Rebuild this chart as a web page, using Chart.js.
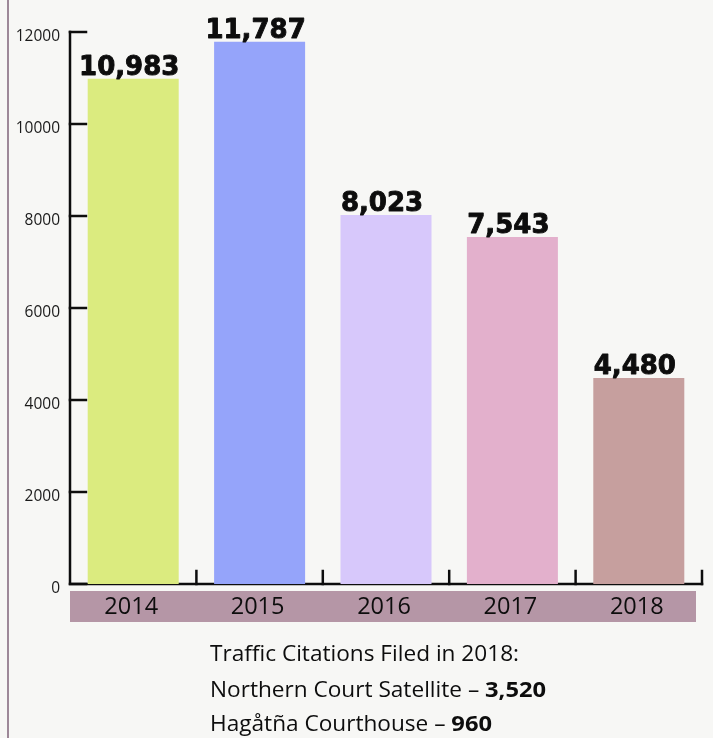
<!DOCTYPE html>
<html>
<head>
<meta charset="utf-8">
<script src="https://cdn.jsdelivr.net/npm/chart.js@4.4.0/dist/chart.umd.min.js"></script>
<style>
  html, body { margin: 0; padding: 0; background: #f7f7f5; }
  #wrap { position: relative; width: 713px; height: 738px; }
  #edge { position: absolute; left: 7px; top: 0; width: 2px; height: 738px; background: #9d8898; }
</style>
</head>
<body>
<div id="wrap">
  <div id="edge"></div>
  <canvas id="bar-chart" width="713" height="738"></canvas>
</div>
<script>
// chart data
const years = ['2014', '2015', '2016', '2017', '2018'];
const citations = [10983, 11787, 8023, 7543, 4480];
const barColors = ['#dbeb7f', '#95a4fa', '#d7c8fb', '#e3b0cc', '#c69f9e'];
const yTicks = [0, 2000, 4000, 6000, 8000, 10000, 12000];
const noteLines = [
    [{ t: 'Traffic Citations Filed in 2018:', b: false }],
    [{ t: 'Northern Court Satellite \u2013 ', b: false }, { t: '3,520', b: true }],
    [{ t: 'Hag\u00e5t\u00f1a Courthouse \u2013 ', b: false }, { t: '960', b: true }]
];

const ink = '#0d0d0d';

// axes with inward ticks, drawn under the bars
const axisPlugin = {
    id: 'axisPlugin',
    beforeDatasetsDraw(chart) {
        const ctx = chart.ctx;
        const x = chart.scales.x;
        const y = chart.scales.y;
        const area = chart.chartArea;
        const top = y.getPixelForValue(yTicks[yTicks.length - 1]);
        const bottom = y.getPixelForValue(0);

        ctx.save();
        ctx.strokeStyle = ink;
        ctx.lineWidth = 2.5;
        ctx.lineCap = 'square';

        // y axis + x axis
        ctx.beginPath();
        ctx.moveTo(area.left, top);
        ctx.lineTo(area.left, bottom);
        ctx.lineTo(area.right, bottom);
        ctx.stroke();

        // y ticks pointing right
        yTicks.forEach((v) => {
            const py = y.getPixelForValue(v);
            ctx.beginPath();
            ctx.moveTo(area.left, py);
            ctx.lineTo(area.left + 16, py);
            ctx.stroke();
        });

        // x ticks between categories, pointing up
        for (let i = 1; i <= years.length; i++) {
            const px = x.getPixelForValue(i - 0.5);
            ctx.beginPath();
            ctx.moveTo(px, bottom);
            ctx.lineTo(px, bottom - 13);
            ctx.stroke();
        }

        // y tick labels
        ctx.fillStyle = '#1a1a1a';
        ctx.font = '15.5px "Open Sans"';
        ctx.textAlign = 'right';
        ctx.textBaseline = 'middle';
        yTicks.forEach((v) => {
            ctx.fillText(String(v), area.left - 10, y.getPixelForValue(v) + 5);
        });
        ctx.restore();
    },
    afterDatasetsDraw(chart) {
        const ctx = chart.ctx;
        const x = chart.scales.x;
        const y = chart.scales.y;
        const area = chart.chartArea;
        const bottom = y.getPixelForValue(0);

        ctx.save();
        // category band
        ctx.fillStyle = '#b596a6';
        ctx.fillRect(area.left, bottom + 7, area.right - 6 - area.left, 31);
        ctx.fillStyle = ink;
        ctx.font = '23.5px "Open Sans"';
        ctx.textAlign = 'center';
        ctx.textBaseline = 'middle';
        years.forEach((yr, i) => {
            ctx.fillText(yr, x.getPixelForValue(i) - 2, bottom + 23);
        });

        // value labels
        ctx.font = 'bold 26px "DejaVu Sans"';
        ctx.textBaseline = 'alphabetic';
        ctx.strokeStyle = ink;
        ctx.lineWidth = 0.9;
        ctx.lineJoin = 'round';
        citations.forEach((v, i) => {
            const s = v.toLocaleString('en-US');
            const px = x.getPixelForValue(i) - 4;
            const py = y.getPixelForValue(v) - 4;
            ctx.fillText(s, px, py);
            ctx.strokeText(s, px, py);
        });

        // note lines under the chart
        ctx.textAlign = 'left';
        const fontOf = (b) => (b ? 'bold 22px' : '21px') + ' "Open Sans"';
        ctx.font = fontOf(false);
        const squeeze = 309 / ctx.measureText(noteLines[0][0].t).width;
        const baselines = [661, 697, 731];
        noteLines.forEach((parts, li) => {
            ctx.save();
            ctx.translate(210, baselines[li]);
            ctx.scale(squeeze, 1);
            let cx = 0;
            parts.forEach((p) => {
                ctx.font = fontOf(p.b);
                ctx.fillText(p.t, cx, 0);
                cx += ctx.measureText(p.t).width;
            });
            ctx.restore();
        });
        ctx.restore();
    }
};

const canvas = document.getElementById('bar-chart');
const barChart = new Chart(canvas, {
    type: 'bar',
    data: {
        labels: years,
        datasets: [{
            data: citations,
            backgroundColor: barColors,
            borderWidth: 0,
            categoryPercentage: 0.72,
            barPercentage: 1
        }]
    },
    options: {
        responsive: false,
        animation: false,
        layout: { padding: { left: 70, right: 11, top: 32, bottom: 154 } },
        plugins: { legend: { display: false }, tooltip: { enabled: false } },
        scales: {
            x: { display: false },
            y: { display: false, min: 0, max: 12000 }
        }
    },
    plugins: [axisPlugin]
});
</script>
</body>
</html>
